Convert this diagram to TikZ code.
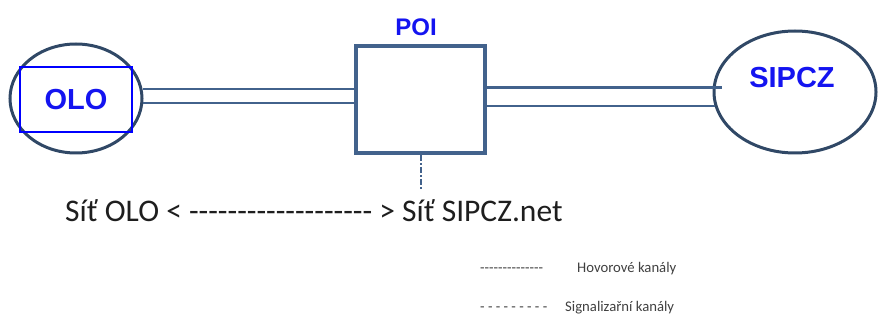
\documentclass[tikz,border=0pt]{standalone}
\usepackage{fontspec}
\newfontfamily\calfont{Carlito}
\newfontfamily\arialfont{Liberation Sans}
\usetikzlibrary{shapes.geometric}
\definecolor{linec}{RGB}{66,98,140}
\definecolor{ellc}{RGB}{48,72,102}
\definecolor{lblblue}{RGB}{20,20,240}
\definecolor{txtc}{RGB}{30,30,30}
\tikzset{
  netell/.style={draw=ellc, line width=3pt, ellipse, inner sep=0pt},
  bluelbl/.style={text=lblblue, font=\arialfont\bfseries\fontsize{29}{29}\selectfont, inner sep=0pt},
  chan/.style={draw=linec, line width=2.6pt},
  legtxt/.style={text=txtc!85, font=\calfont\fontsize{14.7}{15}\selectfont, inner sep=0pt, anchor=base west},
}
\begin{document}
\begin{tikzpicture}[x=1pt,y=-1pt]
\useasboundingbox (0,0) rectangle (878,320);
% networks
\node[netell, minimum width=132pt, minimum height=109pt] (olonet) at (76,98.5) {};
\node[draw=blue, line width=1.5pt, minimum width=112pt, minimum height=65pt, inner sep=0pt,
      text=lblblue, font=\arialfont\bfseries\fontsize{29}{29}\selectfont] (olo) at (76,99.5) {OLO};
\node[netell, minimum width=162pt, minimum height=122pt] (sipcznet) at (795,92) {};
\node[bluelbl] (sipcz) at (792,77.5) {SIPCZ};
% POI
\node[draw=linec, line width=4pt, minimum width=129pt, minimum height=107pt, inner sep=0pt] (poi) at (420.5,99.5) {};
\node[text=lblblue, font=\arialfont\fontsize{24}{24}\selectfont\bfseries, inner sep=0pt] (poilbl) at (416,27) {POI};
% channels left
\draw[chan] (olonet.8.3) -- (olonet.8.3 -| poi.west);
\draw[chan] (olonet.-4.8) -- (olonet.-4.8 -| poi.west);
% channels right
\coordinate (rup) at ([xshift=9pt]sipcznet.177.2);
\draw[chan, line width=3.2pt] (poi.east |- sipcznet.177.2) -- (rup);
\draw[chan, line width=2pt] (poi.east |- sipcznet.190.1) -- (sipcznet.190.1);
% signalling down
\coordinate (sigend) at (421,190);
\draw[draw=linec, line width=2pt, dash pattern=on 6pt off 2pt on 2pt off 2pt] (poi.south -| sigend) -- (sigend);
% main text
\node[text=txtc, font=\calfont\fontsize{31.5}{32}\selectfont, inner sep=0pt, anchor=base west] (main) at (65,222)
  {Síť OLO < ------------------- > Síť SIPCZ.net};
% legend
\node[legtxt] (leg1d) at (480,273) {--------------};
\node[legtxt] (leg1t) at (577,273) {Hovorové kanály};
\node[legtxt] (leg2d) at (480,312) {- - - - - - - - -};
\node[legtxt] (leg2t) at (565,312) {Signalizařní kanály};
\end{tikzpicture}
\end{document}
